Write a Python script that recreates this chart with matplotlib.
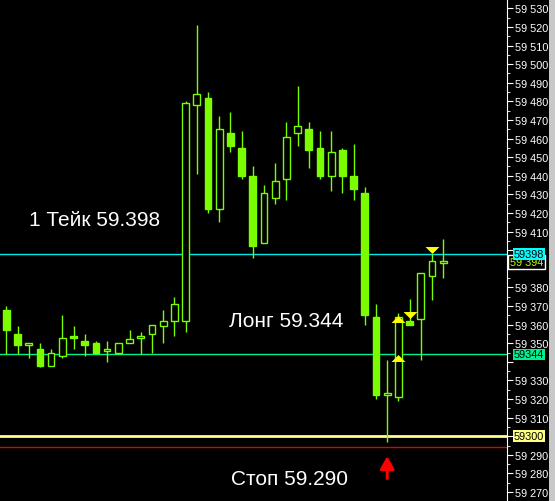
import matplotlib.pyplot as plt
from matplotlib.patches import Rectangle
from matplotlib.transforms import blended_transform_factory

plt.rcParams['font.family'] = ['Liberation Sans', 'DejaVu Sans']

# candles (open, high, low, close)
opens = [59.368, 59.355, 59.349, 59.347, 59.338, 59.343, 59.354, 59.351, 59.350, 59.346,
         59.345, 59.350, 59.353, 59.355, 59.359, 59.362, 59.362, 59.478, 59.482, 59.422,
         59.463, 59.455, 59.440, 59.404, 59.428, 59.438, 59.463, 59.465, 59.455, 59.440,
         59.454, 59.440, 59.431, 59.364, 59.322, 59.321, 59.362, 59.363, 59.386, 59.393]
highs = [59.370, 59.359, 59.350, 59.350, 59.347, 59.365, 59.359, 59.355, 59.351, 59.351,
         59.350, 59.357, 59.356, 59.360, 59.368, 59.375, 59.480, 59.521, 59.485, 59.472,
         59.474, 59.464, 59.445, 59.435, 59.447, 59.469, 59.488, 59.469, 59.464, 59.464,
         59.455, 59.457, 59.434, 59.371, 59.341, 59.366, 59.374, 59.388, 59.398, 59.406]
lows = [59.344, 59.344, 59.342, 59.337, 59.338, 59.342, 59.347, 59.343, 59.345, 59.340,
        59.344, 59.350, 59.344, 59.345, 59.350, 59.354, 59.356, 59.441, 59.420, 59.415,
        59.453, 59.438, 59.396, 59.404, 59.425, 59.427, 59.456, 59.444, 59.438, 59.432,
        59.431, 59.427, 59.360, 59.320, 59.297, 59.319, 59.360, 59.341, 59.373, 59.385]
closes = [59.357, 59.349, 59.350, 59.338, 59.345, 59.353, 59.353, 59.349, 59.345, 59.347,
          59.350, 59.352, 59.354, 59.360, 59.362, 59.371, 59.479, 59.484, 59.422, 59.465,
          59.456, 59.440, 59.402, 59.431, 59.437, 59.461, 59.467, 59.454, 59.440, 59.453,
          59.440, 59.433, 59.365, 59.322, 59.323, 59.364, 59.360, 59.388, 59.394, 59.394]

take_price = 59.398
long_price = 59.344
stop_line = 59.300
red_line = 59.2944
current_price = 59.394

buy_arrows_x = [35, 35]
buy_arrows_y = [59.3632, 59.3423]
sell_arrows_x = [36, 38]
sell_arrows_y = [59.365, 59.400]

yticks = [59.270 + 0.010 * k for k in range(27)]
# labels under the price boxes are hidden
hidden = ['59 300', '59 340', '59 390', '59 400']
yticklabels = [f"{v:.3f}".replace('.', ' ') for v in yticks]
yticklabels = ['' if t in hidden else t for t in yticklabels]

candle_col = '#7cfc00'

fig = plt.figure(figsize=(5.55, 5.02), dpi=100, facecolor='black')
ax = fig.add_axes([0, 0, 507 / 555, 1])
ax.set_facecolor('black')
ax.set_xlim(-0.562, 44.69)
ax.set_ylim(59.2652, 59.5332)

# candles
w = 0.6
for i in range(len(opens)):
    o, h, l, c = opens[i], highs[i], lows[i], closes[i]
    top = max(o, c)
    bot = min(o, c)
    ax.vlines(i, l, bot, color=candle_col, lw=1, zorder=2)
    ax.vlines(i, top, h, color=candle_col, lw=1, zorder=2)
    hgt = max(top - bot, 0.0008)
    if c >= o:
        ax.add_patch(Rectangle((i - w / 2, bot), w, hgt, facecolor='black',
                               edgecolor=candle_col, lw=1, zorder=3))
    else:
        ax.add_patch(Rectangle((i - w / 2, bot), w, hgt, facecolor=candle_col,
                               edgecolor=candle_col, lw=1, zorder=3))

# levels
ax.axhline(take_price, color='#00e8e8', lw=1, zorder=1)
ax.axhline(long_price, color='#00f090', lw=1, zorder=1)
ax.axhline(stop_line, color='#ffff90', lw=2, zorder=1)
ax.axhline(red_line, color='#e00000', lw=1, zorder=1)

# trade arrows
up_tri = [(-1, -0.5), (1, -0.5), (0, 0.5)]
down_tri = [(-1, 0.5), (1, 0.5), (0, -0.5)]
ax.plot(buy_arrows_x, buy_arrows_y, ls='none', marker=up_tri, ms=10, color='#ffff00', mew=0, zorder=5)
ax.plot(sell_arrows_x, sell_arrows_y, ls='none', marker=down_tri, ms=10, color='#ffff00', mew=0, zorder=5)

ax.annotate('', xy=(34, 59.2893), xytext=(34, 59.2773),
            arrowprops=dict(arrowstyle='-|>,head_length=0.75,head_width=0.42', color='red',
                            lw=2.2, mutation_scale=10, shrinkA=0, shrinkB=0))

# right price scale
for s in ['top', 'left', 'bottom']:
    ax.spines[s].set_visible(False)
ax.spines['right'].set_color('white')
ax.set_xticks([])
ax.yaxis.tick_right()
ax.set_yticks(yticks)
ax.set_yticklabels(yticklabels)
ax.set_yticks([v + 0.005 for v in yticks], minor=True)
ax.tick_params(axis='y', which='major', colors='white', length=4, labelsize=7.8, pad=2)
ax.tick_params(axis='y', which='minor', colors='white', length=2)

trans = blended_transform_factory(ax.transAxes, ax.transData)
ax.text(510 / 507, current_price - 0.0003, '59 394', transform=trans, color='#b8ff00', fontsize=7.8,
        va='center', ha='left', zorder=6, clip_on=False,
        bbox=dict(facecolor='black', edgecolor='white', lw=1, pad=1.2))
ax.text(514 / 507, take_price, '59398', transform=trans, color='black', fontsize=7.8,
        va='center', ha='left', zorder=7, clip_on=False,
        bbox=dict(facecolor='#00ffff', edgecolor='none', pad=0.6))
ax.text(514 / 507, long_price, '59344', transform=trans, color='black', fontsize=7.8,
        va='center', ha='left', zorder=7, clip_on=False,
        bbox=dict(facecolor='#00f090', edgecolor='none', pad=0.6))
ax.text(514 / 507, stop_line, '59300', transform=trans, color='black', fontsize=7.8,
        va='center', ha='left', zorder=7, clip_on=False,
        bbox=dict(facecolor='#ffff80', edgecolor='none', pad=0.6))

# scrollbar strip
fig.patches.append(Rectangle((549 / 555, 0), 6 / 555, 1, transform=fig.transFigure,
                             facecolor='#c8c8c8', edgecolor='none'))

# labels
fig.text(29 / 555, 1 - 221 / 502, '1 Тейк 59.398', color='white', fontsize=15, va='center')
fig.text(229 / 555, 1 - 322 / 502, 'Лонг 59.344', color='white', fontsize=15, va='center')
fig.text(231 / 555, 1 - 480 / 502, 'Стоп 59.290', color='white', fontsize=15, va='center')

fig.savefig('out.png', dpi=100, facecolor='black')
